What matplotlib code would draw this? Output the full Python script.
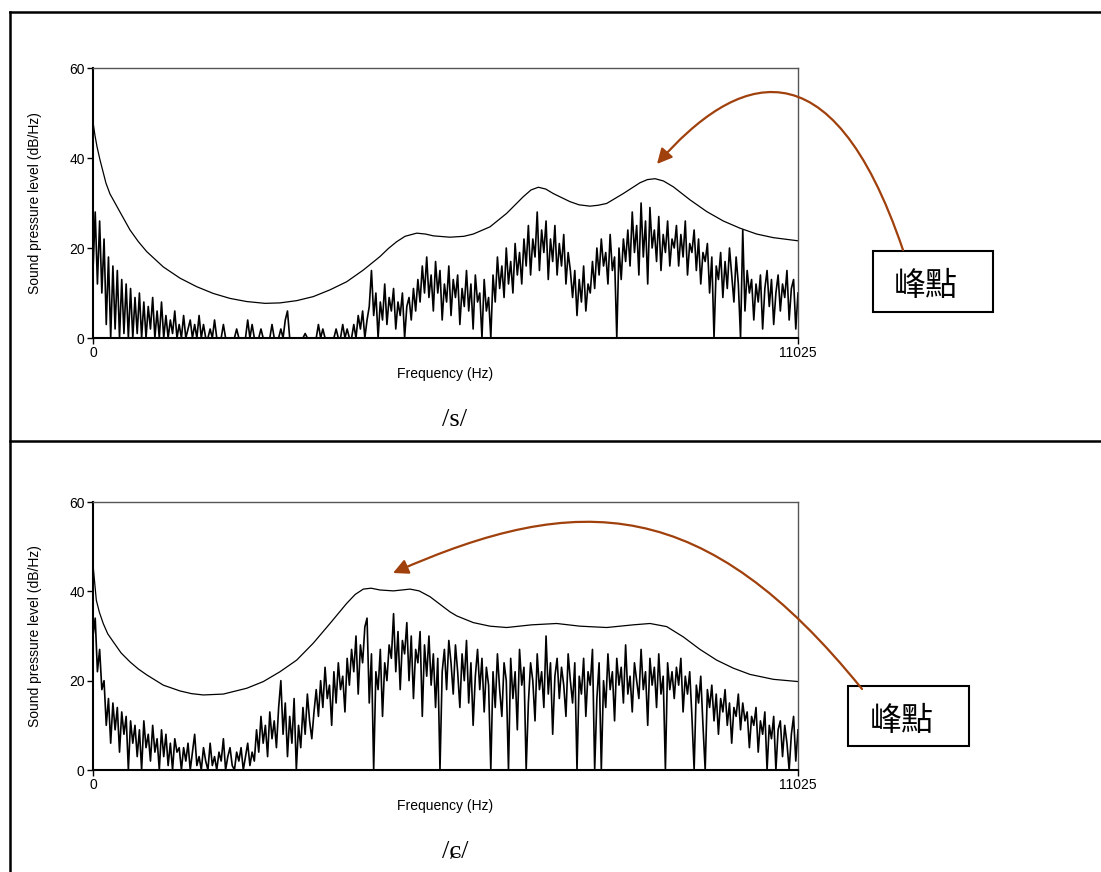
import numpy as np
import matplotlib
matplotlib.use("Agg")
import matplotlib.pyplot as plt
from matplotlib.path import Path
from matplotlib.patches import FancyArrowPatch, Rectangle
from matplotlib.lines import Line2D

W, H = 1101, 872
plt.rcParams['font.family'] = ['Liberation Sans', 'DejaVu Sans']

# ---- data ----
f_max = 11025
sounds = ['/s/', '/ɕ/']
peak_label = '峰點'

# LPC envelope, /s/
env_s_hz = [0, 31, 63, 109, 156, 203, 266, 317, 422, 579, 710, 840, 1099, 1360, 1622, 1881,
            2142, 2404, 2690, 2924, 3185, 3445, 3706, 3967, 4227, 4488, 4620, 4749, 4880,
            5062, 5200, 5322, 5583, 5800, 5947, 6208, 6469, 6729, 6850, 6964, 7080, 7198,
            7459, 7600, 7772, 7900, 8033, 8293, 8554, 8670, 8789, 8920, 9075, 9336, 9597,
            9857, 10118, 10379, 10639, 11025]
env_s_db = [48, 45, 42.5, 39.6, 37, 34.4, 32, 30.7, 28, 24, 21.4, 19.2, 15.8, 13.3, 11.4, 9.9,
            8.8, 8.1, 7.7, 7.8, 8.3, 9.2, 10.7, 12.5, 15.1, 18.1, 19.9, 21.4, 22.6,
            23.3, 23.1, 22.7, 22.4, 22.6, 23.1, 24.7, 27.7, 31.4, 32.9, 33.5, 33.1, 32.1,
            30.3, 29.6, 29.3, 29.5, 29.9, 32.1, 34.5, 35.2, 35.4, 34.9, 33.6, 30.7, 28.1,
            26, 24.4, 23.1, 22.3, 21.6]

# LPC envelope, /ɕ/
env_c_hz = [0, 26, 52, 100, 160, 230, 317, 440, 579, 710, 840, 1099, 1360, 1540, 1725, 2038,
            2404, 2664, 2924, 3185, 3445, 3706, 3967, 4100, 4227, 4350, 4488, 4697, 4830,
            4958, 5100, 5270, 5426, 5583, 5688, 5947, 6208, 6469, 6860, 7251, 7616, 8033,
            8449, 8711, 8972, 9231, 9492, 9753, 10013, 10274, 10639, 11025]
env_c_db = [46, 42, 38, 35.3, 32.8, 30.5, 28.7, 26.2, 24.2, 22.6, 21.3, 19, 17.7, 17.1, 16.8, 17,
            18.3, 19.8, 22, 24.6, 28.4, 32.8, 37.3, 39.3, 40.5, 40.7, 40.3, 40.1, 40.3,
            40.5, 40.1, 38.8, 37.1, 35.4, 34.5, 33, 32.2, 31.9, 32.5, 32.8, 32.2, 31.9,
            32.5, 32.8, 32.1, 29.8, 27, 24.6, 22.8, 21.4, 20.3, 19.8]

# FFT spectrum, /s/ (dB, evenly spaced 0..11025 Hz)
spec_s = [15, 28, 12, 26, 10, 22,
          3, 18, 0, 16, 2, 15, 0, 13, 1, 12, 0, 11,
          0, 9, 1, 10, 0, 8, 0, 7, 2, 9, 0, 6, 0,
          8, 0, 5, 0, 4, 1, 6, 0, 3, 0, 5, 0, 2, 4, 0, 3, 0, 5,
          0, 3, 0, 0, 2, 0, 4, 0, 0, 0, 3, 0, 0, 0, 0, 0, 2, 0, 0, 0, 0, 4, 0, 3, 0, 0,
          0, 2, 0, 0, 0, 0, 3, 0, 0, 0, 2,
          0, 4, 6, 0,
          0, 0, 0, 0, 0, 0, 1, 0, 0, 0, 0, 0, 3, 0, 2, 0, 0, 0, 0, 0, 2, 0, 0, 3, 0, 2, 0, 0,
          3, 0, 5, 2, 6, 0, 4, 7,
          15, 5, 10, 0, 8, 4, 12, 3, 9, 6, 11, 2, 8, 5, 10, 0, 7, 9, 4, 11, 6, 13, 8, 16, 10,
          18, 9, 14, 6, 17, 10, 15, 4, 12, 8, 16, 5, 13, 9, 14, 3, 11, 7, 15, 6,
          12, 2, 14, 8, 10, 0, 13, 6, 9, 0,
          14, 8, 18, 11, 16, 9, 20, 12, 17, 10, 21, 14, 19, 12, 22,
          16, 25, 14, 22, 18, 28, 15, 24, 19, 26, 13, 22, 17, 25, 14, 21, 16, 23, 12, 19, 15,
          9, 15, 5, 13, 8, 16, 6, 12, 10,
          17, 11, 20, 14, 22, 16, 19, 12, 23, 15, 18, 0, 20, 13, 22, 17,
          24, 16, 28, 19, 25, 14, 30, 18, 26, 12, 29, 20, 24, 17, 27, 15, 23, 19, 26, 16, 22,
          20, 25, 16, 23, 18, 26, 14, 21, 19, 24, 15, 22, 12, 19, 17, 21,
          10, 18, 0, 16, 13, 19, 9, 17, 11, 20, 14, 8, 18, 12, 0,
          24,
          6, 15, 10, 13, 4, 12, 8, 14, 2, 11, 15, 7, 13, 3, 10, 14, 6, 12, 9, 15, 4, 11, 13, 2, 10]

# FFT spectrum, /ɕ/
spec_c = [30, 34, 22, 27, 18, 20,
          10, 16, 6, 15, 9, 14, 4, 13, 8, 12, 0, 11,
          6, 10, 3, 9, 0, 11, 5, 8, 2, 10, 4, 7, 0, 9, 3, 8, 1, 6, 0, 7, 4, 5, 0,
          5, 2, 6, 0, 4, 8, 1, 3, 0, 5, 2, 0, 6, 1, 3, 0, 4, 2, 7, 0, 3, 5, 1, 0, 4, 2, 5, 0,
          3, 6, 1, 4, 2,
          9, 4, 12, 6, 10, 3, 13, 7, 11, 5, 14, 20,
          8, 15, 3, 12, 6, 16, 0, 10, 5, 14, 8, 17, 11, 7, 13,
          18, 12, 20, 14, 23, 16, 19, 10, 22, 15, 24, 18, 21, 13, 25,
          19, 27, 22, 30, 17, 28, 24, 32, 34,
          15, 26, 0, 22, 18, 27, 12, 24, 20, 28, 25, 35,
          22, 31, 18, 29, 26, 33, 20, 30, 16, 27, 24, 31, 12, 28, 21, 30, 19, 26, 14, 25, 0,
          22, 27, 18, 29, 24,
          17, 28, 22, 14, 26, 20, 29, 15, 24, 10, 21, 27, 18, 25, 13, 23, 19, 0,
          22, 14, 26, 18, 12, 24, 20, 0, 25, 16, 22, 9, 27, 19, 23, 0, 15, 24, 20, 11, 26, 18,
          22, 14, 30, 17, 24, 8, 21, 25, 16, 23, 19, 12, 26,
          20, 15, 24, 0, 21, 17, 25, 12, 22, 19, 27, 0, 16, 24, 0, 20, 14, 26, 18, 22, 11, 25,
          19, 23, 15, 28, 17, 21, 13, 24, 20, 16, 27, 18, 22, 10, 25, 19, 23, 14, 26, 17, 21,
          0, 24, 18, 22,
          16, 23, 19, 25, 13, 21, 17, 22, 12, 0, 19, 15, 21, 10, 0, 18,
          14, 19, 11, 17, 8, 16, 13, 18, 10, 15, 6, 14, 12, 17, 9, 15, 11, 13, 5, 12, 10, 14,
          4, 11, 8, 13, 0, 10, 7, 12, 0, 9, 11, 3, 10, 6, 0, 8, 12, 2, 9]

brown = '#a0400c'


def fx(x):
    return x / W


def fy(y):
    return 1 - y / H


fig = plt.figure(figsize=(W / 100, H / 100), dpi=100)

# table frame
for seg in [((10, 1101), (12, 12)), ((10, 10), (12, 872)), ((10, 1101), (441, 441))]:
    fig.add_artist(Line2D([fx(v) for v in seg[0]], [fy(v) for v in seg[1]],
                          color='black', lw=1.8))

panels = [
    dict(top=68, bot=338, spec=spec_s, ehz=env_s_hz, edb=env_s_db, sound=sounds[0], sy=420,
         box=(873, 251, 120, 61),
         arrow=[(903, 250), (830, 35), (735, 75), (657, 164)]),
    dict(top=502, bot=770, spec=spec_c, ehz=env_c_hz, edb=env_c_db, sound=sounds[1], sy=852,
         box=(848, 686, 121, 60),
         arrow=[(862, 689), (705, 495), (580, 490), (393, 573)]),
]

for p in panels:
    ax = fig.add_axes([fx(93), fy(p['bot']), (798 - 93) / W, (p['bot'] - p['top']) / H])
    freqs = np.linspace(0, f_max, len(p['spec']))
    ax.plot(freqs, p['spec'], color='black', lw=1.2)
    ax.plot(p['ehz'], p['edb'], color='black', lw=0.9)
    ax.set_xlim(0, f_max)
    ax.set_ylim(0, 60)
    ax.set_yticks([0, 20, 40, 60])
    ax.set_xticks([0, f_max])
    ax.set_xticklabels(['0', '11025'])
    ax.tick_params(labelsize=10, length=4, width=1, pad=2)
    for s in ['left', 'bottom']:
        ax.spines[s].set_linewidth(1.5)
    for s in ['top', 'right']:
        ax.spines[s].set_color('#555555')
        ax.spines[s].set_linewidth(1.0)
    ax.set_xlabel('Frequency (Hz)', fontsize=10, labelpad=5)
    fig.text(fx(35), fy((p['top'] + p['bot']) / 2), 'Sound pressure level (dB/Hz)',
             rotation=90, ha='center', va='center', fontsize=10)

    # phoneme label
    fig.text(fx(455), fy(p['sy']), p['sound'], ha='center', va='center', fontsize=19,
             family=['Liberation Serif', 'DejaVu Serif'])

    # peak label box
    bx, by, bw, bh = p['box']
    fig.add_artist(Rectangle((fx(bx), fy(by + bh)), bw / W, bh / H, transform=fig.transFigure,
                             fill=True, facecolor='white', edgecolor='black', lw=1.5))
    fig.text(fx(bx + bw / 2 - 7), fy(by + bh / 2 + 5), peak_label, ha='center', va='center',
             fontsize=23, family=['Noto Sans CJK TC', 'DejaVu Sans'])

    # curved arrow
    verts = [(fx(a), fy(b)) for a, b in p['arrow']]
    path = Path(verts, [Path.MOVETO, Path.CURVE4, Path.CURVE4, Path.CURVE4])
    arr = FancyArrowPatch(path=path, arrowstyle='-|>,head_length=9,head_width=4.5',
                          color=brown, lw=1.6, transform=fig.transFigure)
    fig.add_artist(arr)

fig.savefig('out.png', dpi=100)
